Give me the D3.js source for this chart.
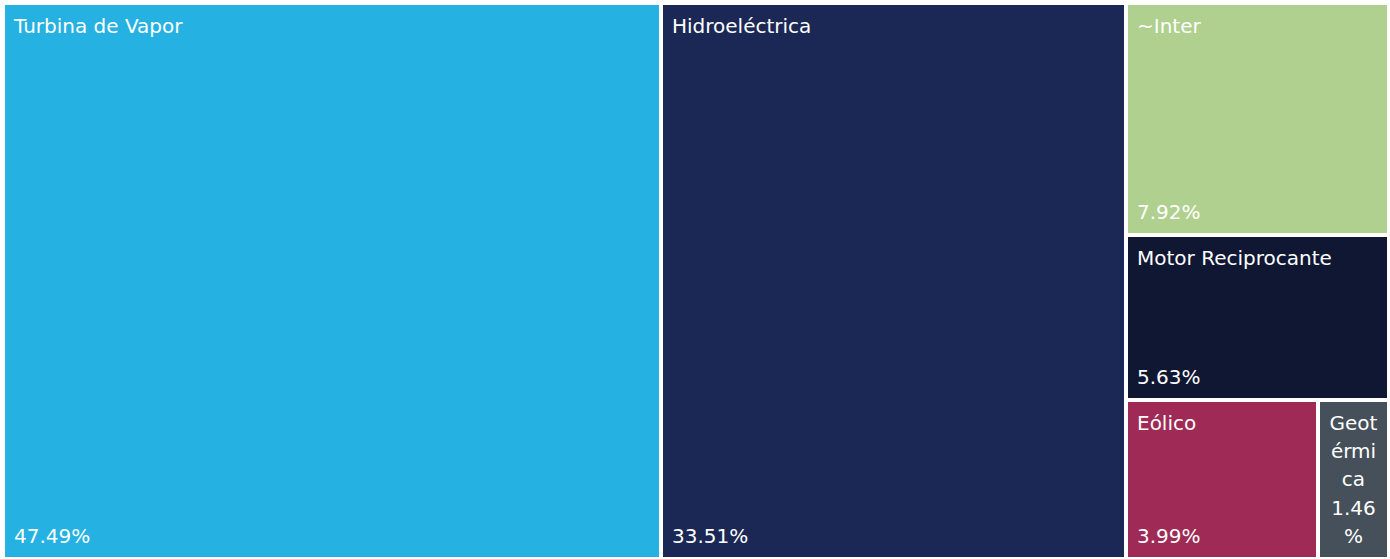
<!DOCTYPE html>
<html>
<head>
<meta charset="utf-8">
<script src="https://cdn.jsdelivr.net/npm/d3@7"></script>
<style>
  html, body { margin: 0; padding: 0; background: #fff; }
  svg { display: block; }
  text { font-family: "DejaVu Sans", sans-serif; font-size: 20px; fill: #fff; }
</style>
</head>
<body>
<div id="chart"></div>
<script>
  // chart data
  const categories = ['Turbina de Vapor', 'Hidroeléctrica', '~Inter', 'Motor Reciprocante', 'Eólico', 'Geotérmica'];
  const shares = [47.49, 33.51, 7.92, 5.63, 3.99, 1.46];
  const colors = ['#25b1e1', '#1b2855', '#afd08f', '#0f1733', '#9e2a55', '#46505a'];

  const width = 1390;
  const height = 559;
  const offset = 5;

  const svg = d3.select('#chart')
    .append('svg')
    .attr('width', width)
    .attr('height', height)
    .append('g')
    .attr('transform', `translate(${offset},${offset})`);

  const root = d3.hierarchy({
    children: categories.map((c, i) => ({ name: c, value: shares[i], color: colors[i] }))
  })
    .sum(d => d.value || 0)
    .sort((a, b) => b.value - a.value);

  d3.treemap()
    .tile(d3.treemapSquarify.ratio(1))
    .size([1387 - offset, 557 - offset])
    .paddingInner(4)
    .round(true)(root);

  const cells = svg.selectAll('.cell')
    .data(root.leaves())
    .enter()
    .append('g')
    .attr('class', 'cell')
    .attr('transform', d => `translate(${d.x0},${d.y0})`);

  cells.append('rect')
    .attr('width', d => d.x1 - d.x0)
    .attr('height', d => d.y1 - d.y0)
    .attr('fill', d => d.data.color);

  // break a string into lines that fit the cell, char by char if needed
  function wrapChars(str, maxW, probe) {
    probe.text(str);
    if (probe.node().getComputedTextLength() <= maxW) return [str];
    const lines = [];
    let cur = '';
    for (const ch of str) {
      probe.text(cur + ch);
      if (cur && probe.node().getComputedTextLength() > maxW) {
        lines.push(cur);
        cur = ch;
      } else {
        cur += ch;
      }
    }
    if (cur) lines.push(cur);
    return lines;
  }

  const probe = svg.append('text').attr('x', -1000).attr('y', -1000);
  const lineH = 28;

  cells.each(function(d) {
    const g = d3.select(this);
    const w = d.x1 - d.x0;
    const h = d.y1 - d.y0;
    const pad = 9;
    const avail = w - 16;
    const nameLines = wrapChars(d.data.name, avail, probe);
    const valLines = wrapChars(d.data.value.toFixed(2) + '%', avail, probe);
    const narrow = nameLines.length > 1 || valLines.length > 1;
    const x = narrow ? w / 2 : pad;
    const anchor = narrow ? 'middle' : 'start';

    nameLines.forEach((line, i) => {
      g.append('text')
        .attr('x', x)
        .attr('y', 28 + i * lineH)
        .attr('text-anchor', anchor)
        .text(line);
    });
    valLines.forEach((line, i) => {
      g.append('text')
        .attr('x', x)
        .attr('y', h - 14 - (valLines.length - 1 - i) * lineH)
        .attr('text-anchor', anchor)
        .text(line);
    });
  });

  probe.remove();
</script>
</body>
</html>
